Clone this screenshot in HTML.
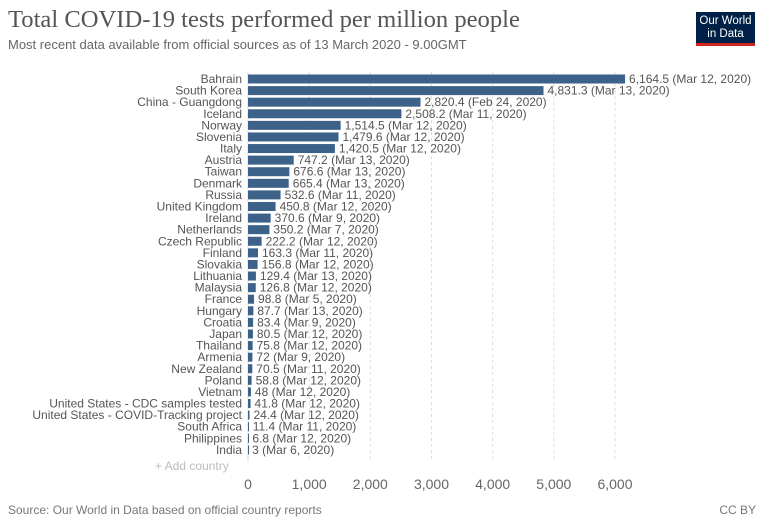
<!DOCTYPE html>
<html><head><meta charset="utf-8"><style>
body{margin:0;background:#fff;width:764px;height:525px;overflow:hidden;font-family:"Liberation Sans",sans-serif}
#title{position:absolute;left:8px;top:6px;font-family:"Liberation Serif",serif;font-size:24.6px;color:#555}
#sub{position:absolute;left:8px;top:37px;font-size:13px;color:#666}
#logo{position:absolute;left:696px;top:12px;width:59px;height:34px;background:#002147;border-bottom:3px solid #ce261e;color:#fff;font-size:11.5px;line-height:13px;text-align:center;padding-top:3px;box-sizing:border-box}
#src{position:absolute;left:8px;top:503px;font-size:12px;color:#777}
#cc{position:absolute;right:8px;top:503px;font-size:12px;color:#777}
</style></head><body>
<div id="title">Total COVID-19 tests performed per million people</div>
<div id="sub">Most recent data available from official sources as of 13 March 2020 - 9.00GMT</div>
<div id="logo">Our World<br>in Data</div>
<svg id="chart" width="764" height="525" style="position:absolute;left:0;top:0"></svg>
<div id="src">Source: Our World in Data based on official country reports</div>
<div id="cc">CC BY</div>
<script>
const countries=["Bahrain","South Korea","China - Guangdong","Iceland","Norway","Slovenia","Italy","Austria","Taiwan","Denmark","Russia","United Kingdom","Ireland","Netherlands","Czech Republic","Finland","Slovakia","Lithuania","Malaysia","France","Hungary","Croatia","Japan","Thailand","Armenia","New Zealand","Poland","Vietnam","United States - CDC samples tested","United States - COVID-Tracking project","South Africa","Philippines","India"];
const values=[6164.5,4831.3,2820.4,2508.2,1514.5,1479.6,1420.5,747.2,676.6,665.4,532.6,450.8,370.6,350.2,222.2,163.3,156.8,129.4,126.8,98.8,87.7,83.4,80.5,75.8,72,70.5,58.8,48,41.8,24.4,11.4,6.8,3];
const valueLabels=["6,164.5","4,831.3","2,820.4","2,508.2","1,514.5","1,479.6","1,420.5","747.2","676.6","665.4","532.6","450.8","370.6","350.2","222.2","163.3","156.8","129.4","126.8","98.8","87.7","83.4","80.5","75.8","72","70.5","58.8","48","41.8","24.4","11.4","6.8","3"];
const dates=["Mar 12, 2020","Mar 13, 2020","Feb 24, 2020","Mar 11, 2020","Mar 12, 2020","Mar 12, 2020","Mar 12, 2020","Mar 13, 2020","Mar 13, 2020","Mar 13, 2020","Mar 11, 2020","Mar 12, 2020","Mar 9, 2020","Mar 7, 2020","Mar 12, 2020","Mar 11, 2020","Mar 12, 2020","Mar 13, 2020","Mar 12, 2020","Mar 5, 2020","Mar 13, 2020","Mar 9, 2020","Mar 12, 2020","Mar 12, 2020","Mar 9, 2020","Mar 11, 2020","Mar 12, 2020","Mar 12, 2020","Mar 12, 2020","Mar 12, 2020","Mar 11, 2020","Mar 12, 2020","Mar 6, 2020"];
const ticks=[0,1000,2000,3000,4000,5000,6000];
const tickLabels=["0","1,000","2,000","3,000","4,000","5,000","6,000"];
const NS="http://www.w3.org/2000/svg",svg=document.getElementById('chart');
const x0=248,x=v=>x0+v*(615-x0)/6000,y=i=>79+i*11.59;
function mk(t,a,txt){const e=document.createElementNS(NS,t);for(const k in a)e.setAttribute(k,a[k]);if(txt!=null)e.textContent=txt;svg.appendChild(e);return e;}
ticks.forEach((t,i)=>{
 const g=mk('line',{x1:x(t),x2:x(t),y1:72,y2:462,stroke:'#ddd','stroke-dasharray':i?'3,3':'none'});
 
 
 const l=mk('text',{x:x(t),y:489,'text-anchor':'middle','font-size':14,fill:'#666'},tickLabels[i]);
 
 
});
countries.forEach((c,i)=>{
 const cy=y(i);
 const lab=mk('text',{x:242,y:cy+4,'text-anchor':'end','font-size':12,fill:'#555'},c);
 
 
 const b=mk('rect',{x:x0,y:cy-4.5,width:Math.max(1,x(values[i])-x0),height:9,fill:'#3c6289'});
 
 
 const v=mk('text',{x:x(values[i])+4,y:cy+4,'font-size':12,fill:'#555'},valueLabels[i]+' ('+dates[i]+')');
 
 
});
const ad=mk('text',{x:155,y:470,'font-size':12,fill:'#bbb'},'+ Add country');


</script>
</body></html>
